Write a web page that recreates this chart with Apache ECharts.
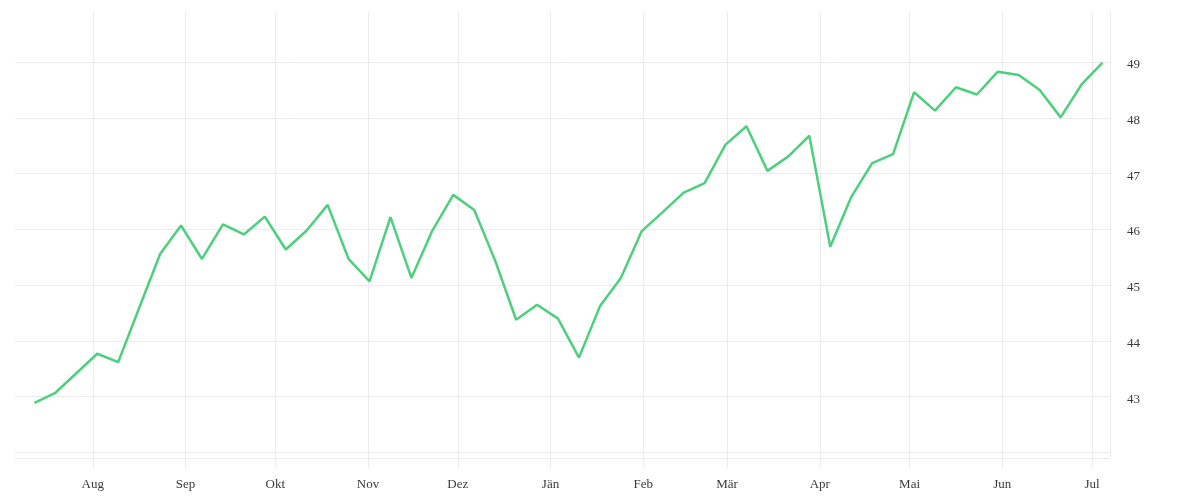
<!DOCTYPE html>
<html>
<head>
<meta charset="utf-8">
<script src="https://cdn.jsdelivr.net/npm/echarts@6/dist/echarts.min.js"></script>
<style>
html,body{margin:0;padding:0;background:#fff;}
#chart{width:1200px;height:500px;}
</style>
</head>
<body>
<div id="chart"></div>
<script>
// ---- data ----
const firstDate = '2022-07-12T12:00:00';   // weekly observations
const weekStepDays = 7;
const values = [
  42.89, 43.07, 43.42, 43.77, 43.62, 44.59, 45.56, 46.07, 45.47, 46.09,
  45.91, 46.23, 45.64, 45.98, 46.44, 45.47, 45.07, 46.22, 45.13, 45.98,
  46.62, 46.35, 45.44, 44.38, 44.65, 44.40, 43.70, 44.62, 45.13, 45.97,
  46.31, 46.66, 46.83, 47.52, 47.85, 47.05, 47.31, 47.68, 45.69, 46.58,
  47.19, 47.35, 48.46, 48.13, 48.55, 48.42, 48.83, 48.77, 48.50, 48.01,
  48.60, 48.99
];
const monthNames = ['Jän','Feb','Mär','Apr','Mai','Jun','Jul','Aug','Sep','Okt','Nov','Dez'];
const yTickLabels = [43, 44, 45, 46, 47, 48, 49];
const xRange = ['2022-07-06T00:00:00', '2023-07-07T00:00:00'];
const yRange = [41.9, 49.9];

// ---- build ----
const DAY = 86400000;
const t0 = new Date(firstDate).getTime();
const seriesData = values.map((v, i) => [t0 + i * weekStepDays * DAY, v]);

const GRID = '#ececec';
const TEXT = '#3a3a3a';
const FONT = 'Liberation Serif';

const xSplitColors = ['rgba(0,0,0,0)'].concat(new Array(13).fill(GRID));
const ySplitColors = new Array(9).fill(GRID).concat(['rgba(0,0,0,0)']);

const chart = echarts.init(document.getElementById('chart'), null, {renderer: 'canvas'});
chart.setOption({
  animation: false,
  backgroundColor: '#fff',
  grid: {left: 15, right: 90, top: 12, bottom: 42, containLabel: false},
  xAxis: {
    type: 'time',
    min: new Date(xRange[0]).getTime(),
    max: new Date(xRange[1]).getTime(),
    splitNumber: 12,
    minInterval: 28 * DAY,
    maxInterval: 31 * DAY,
    axisLine: {show: true, lineStyle: {color: GRID, width: 1}},
    axisTick: {show: true, length: 10, lineStyle: {color: GRID, width: 1}},
    splitLine: {show: true, lineStyle: {color: xSplitColors, width: 1}},
    axisLabel: {
      show: true,
      showMinLabel: false,
      showMaxLabel: false,
      margin: 20,
      color: TEXT,
      fontFamily: FONT,
      fontSize: 13,
      formatter: function (val) {
        const d = new Date(val);
        return monthNames[d.getMonth()];
      }
    }
  },
  yAxis: {
    type: 'value',
    position: 'right',
    min: yRange[0],
    max: yRange[1],
    splitNumber: 8,
    minInterval: 1,
    maxInterval: 1,
    axisLine: {show: false},
    axisTick: {show: false},
    splitLine: {show: true, lineStyle: {color: ySplitColors, width: 1}},
    axisLabel: {
      show: true,
      showMinLabel: false,
      showMaxLabel: false,
      margin: 17,
      color: TEXT,
      fontFamily: FONT,
      fontSize: 13,
      rich: {
        v: {padding: [5, 0, 0, 0], color: TEXT, fontFamily: FONT, fontSize: 13}
      },
      formatter: function (val) {
        const r = Math.round(val);
        return (Math.abs(val - r) < 1e-6 && yTickLabels.indexOf(r) >= 0) ? '{v|' + r + '}' : '';
      }
    }
  },
  series: [{
    type: 'line',
    data: seriesData,
    showSymbol: false,
    symbol: 'none',
    smooth: false,
    lineStyle: {color: '#4cd07d', width: 2.5},
    itemStyle: {color: '#4cd07d'}
  }]
});
</script>
</body>
</html>
